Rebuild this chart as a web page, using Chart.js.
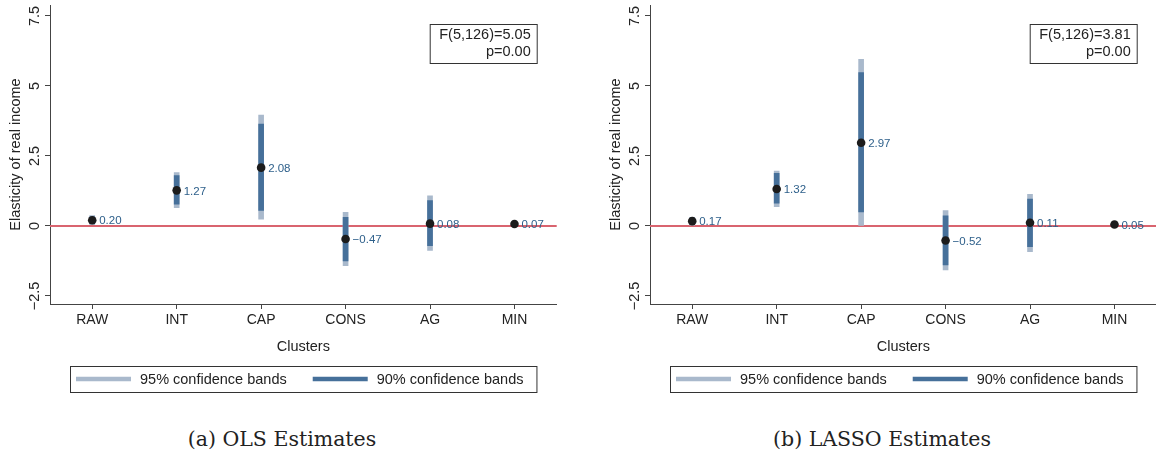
<!DOCTYPE html>
<html>
<head>
<meta charset="utf-8">
<script src="https://cdn.jsdelivr.net/npm/chart.js@4.4.1/dist/chart.umd.min.js"></script>
<style>
  body { margin: 0; background: #fff; width: 1156px; height: 459px; position: relative; overflow: hidden; }
  .wrap { position: absolute; top: 0; width: 561px; height: 400px; }
  .cap { position: absolute; top: 424px; width: 400px; text-align: center;
         font-family: "DejaVu Serif", serif; font-size: 20.5px; line-height: 30px; color: #222; }
</style>
</head>
<body>
<div class="wrap" style="left:0"><canvas id="ols"></canvas></div>
<div class="wrap" style="left:600px"><canvas id="lasso"></canvas></div>
<div class="cap" style="left:82px">(a) OLS Estimates</div>
<div class="cap" style="left:682px">(b) LASSO Estimates</div>
<script>
// categories and tick labels
const clusters = ['RAW', 'INT', 'CAP', 'CONS', 'AG', 'MIN'];
const yTicks = [-2.5, 0, 2.5, 5, 7.5];
const legendLabels = ['95% confidence bands', '90% confidence bands'];

// OLS
const olsEst = [0.20, 1.27, 2.08, -0.47, 0.08, 0.07];
const olsLo95 = [0.04, 0.65, 0.24, -1.42, -0.88, 0.02];
const olsHi95 = [0.37, 1.90, 3.96, 0.48, 1.07, 0.12];
const olsLo90 = [0.08, 0.78, 0.55, -1.25, -0.71, 0.03];
const olsHi90 = [0.32, 1.80, 3.64, 0.31, 0.90, 0.11];
const olsTest = ['F(5,126)=5.05', 'p=0.00'];

// LASSO
const lassoEst = [0.17, 1.32, 2.97, -0.52, 0.11, 0.05];
const lassoLo95 = [0.03, 0.69, 0.02, -1.57, -0.92, 0.00];
const lassoHi95 = [0.31, 1.96, 5.95, 0.55, 1.13, 0.10];
const lassoLo90 = [0.06, 0.81, 0.50, -1.39, -0.74, 0.01];
const lassoHi90 = [0.28, 1.88, 5.48, 0.36, 0.96, 0.09];
const lassoTest = ['F(5,126)=3.81', 'p=0.00'];

const pale = '#a9b9cc';
const dark = '#46709a';
const FONT = '"Liberation Sans", Arial, sans-serif';
const fmt = v => v.toFixed(2).replace('-', '\u2212');

Chart.defaults.font.family = FONT;
Chart.defaults.color = '#222';

// red zero line, behind the bands
const zeroLine = {
  id: 'zeroLine',
  beforeDatasetsDraw(chart) {
    const { ctx, chartArea: a, scales: { y } } = chart;
    const py = y.getPixelForValue(0);
    ctx.save();
    ctx.strokeStyle = '#d9646f';
    ctx.lineWidth = 2;
    ctx.beginPath();
    ctx.moveTo(a.left, py);
    ctx.lineTo(a.right, py);
    ctx.stroke();
    ctx.restore();
  }
};

// value labels, rotated y ticks, test box, legend box
const extras = {
  id: 'extras',
  afterDatasetsDraw(chart) {
    const ctx = chart.ctx;
    const meta = chart.getDatasetMeta(0);
    const vals = chart.data.datasets[0].data;
    ctx.save();
    ctx.font = '11.5px ' + FONT;
    ctx.fillStyle = '#2d5f8a';
    ctx.textBaseline = 'middle';
    ctx.textAlign = 'left';
    meta.data.forEach((pt, i) => ctx.fillText(fmt(vals[i]), pt.x + 7, pt.y + 1));
    ctx.restore();
  },
  afterDraw(chart, args, opts) {
    const { ctx, chartArea: a, scales: { y } } = chart;
    ctx.save();
    ctx.font = '14.5px ' + FONT;
    ctx.fillStyle = '#222';

    // y tick labels, reading upwards
    y.ticks.forEach(t => {
      ctx.save();
      ctx.translate(a.left - 15, y.getPixelForValue(t.value));
      ctx.rotate(-Math.PI / 2);
      ctx.textAlign = 'center';
      ctx.textBaseline = 'middle';
      ctx.fillText(String(t.value).replace('-', '\u2212'), 0, 0);
      ctx.restore();
    });

    // F-test box
    const bx = a.right - 127, by = a.top + 19;
    ctx.strokeStyle = '#333';
    ctx.lineWidth = 1;
    ctx.strokeRect(bx + 0.5, by + 0.5, 107, 39);
    ctx.textAlign = 'right';
    ctx.textBaseline = 'middle';
    ctx.fillText(opts.test[0], bx + 101, by + 11);
    ctx.fillText(opts.test[1], bx + 101, by + 28);

    // legend
    const w1 = ctx.measureText(legendLabels[0]).width;
    const w2 = ctx.measureText(legendLabels[1]).width;
    const total = 6 + 55 + 9 + w1 + 26 + 55 + 9 + w2 + 13;
    const lx = Math.round((a.left + a.right) / 2 - total / 2);
    const ly = 366, lh = 26, cy = ly + lh / 2;
    ctx.strokeRect(lx + 0.5, ly + 0.5, total, lh);
    ctx.lineWidth = 4.5;
    ctx.textAlign = 'left';
    let x = lx + 6;
    [[pale, legendLabels[0], w1], [dark, legendLabels[1], w2]].forEach(([c, txt, w]) => {
      ctx.strokeStyle = c;
      ctx.beginPath();
      ctx.moveTo(x, cy);
      ctx.lineTo(x + 55, cy);
      ctx.stroke();
      ctx.fillText(txt, x + 64, cy + 1);
      x += 55 + 9 + w + 26;
    });
    ctx.restore();
  }
};

function makeChart(id, est, lo95, hi95, lo90, hi90, test) {
  return new Chart(document.getElementById(id), {
    type: 'bar',
    data: {
      labels: clusters,
      datasets: [
        {
          type: 'line', data: est, showLine: false, order: 0,
          pointRadius: 4.3, pointHoverRadius: 4.3, pointBorderWidth: 0,
          pointBackgroundColor: '#1c1c1c', borderColor: '#1c1c1c'
        },
        {
          data: lo90.map((v, i) => [v, hi90[i]]), order: 1,
          backgroundColor: dark, barThickness: 5, grouped: false, borderSkipped: false
        },
        {
          data: lo95.map((v, i) => [v, hi95[i]]), order: 2,
          backgroundColor: pale, barThickness: 5, grouped: false, borderSkipped: false
        }
      ]
    },
    options: {
      responsive: false,
      animation: false,
      devicePixelRatio: 1,
      layout: { padding: { top: 5, right: 0, bottom: 42, left: 0 } },
      plugins: {
        legend: { display: false },
        tooltip: { enabled: false },
        extras: { test }
      },
      scales: {
        x: {
          offset: true,
          grid: { display: true, drawOnChartArea: false, offset: false, tickLength: 5, color: '#444' },
          border: { color: '#444', width: 1 },
          ticks: { font: { size: 14 }, color: '#222', padding: 3 },
          title: { display: true, text: 'Clusters', font: { size: 14.5 }, color: '#222', padding: { top: 0, bottom: 2 } },
          afterFit: s => { s.height = 54; }
        },
        y: {
          min: -2.79, max: 7.89,
          afterBuildTicks: s => { s.ticks = yTicks.map(v => ({ value: v })); },
          grid: { display: true, drawOnChartArea: false, tickLength: 5, color: '#444' },
          border: { color: '#444', width: 1 },
          ticks: { display: false },
          title: { display: true, text: 'Elasticity of real income', font: { size: 14.5 }, color: '#222', padding: { top: 7, bottom: 0 } },
          afterFit: s => { s.width = 50; }
        }
      }
    },
    plugins: [zeroLine, extras]
  });
}

['ols', 'lasso'].forEach(id => {
  const c = document.getElementById(id);
  c.width = 561; c.height = 400;
  c.style.width = '561px'; c.style.height = '400px';
});
makeChart('ols', olsEst, olsLo95, olsHi95, olsLo90, olsHi90, olsTest);
makeChart('lasso', lassoEst, lassoLo95, lassoHi95, lassoLo90, lassoHi90, lassoTest);
</script>
</body>
</html>
